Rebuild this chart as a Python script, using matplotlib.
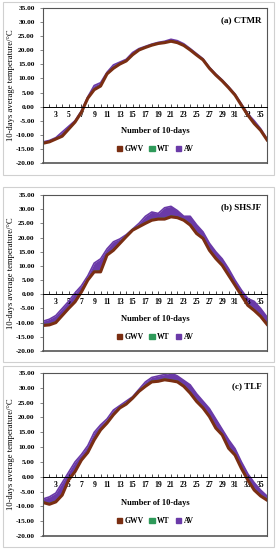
import matplotlib
matplotlib.use("Agg")
import matplotlib.pyplot as plt
from matplotlib.patches import Rectangle, Patch
from matplotlib.ticker import FormatStrFormatter

plt.rcParams['font.family'] = ['Liberation Serif', 'DejaVu Serif']
plt.rcParams['font.weight'] = 'bold'

days = list(range(1, 37))
yticks = [35, 30, 25, 20, 15, 10, 5, 0, -5, -10, -15, -20]
xlabels = [str(d) if d % 2 == 1 and d > 1 else "" for d in days]
series_names = ["GWV", "WT", "AV"]

# (a) CTMR
gwv_a = [-13.0, -12.5, -11.5, -10.5, -8.0, -5.5, -2.0, 3.0, 6.0, 7.3, 11.6, 13.6,
         15.1, 16.2, 18.4, 20.1, 21.0, 21.8, 22.4, 22.7, 23.2, 22.7, 21.7, 20.1,
         18.3, 16.6, 13.6, 11.2, 9.1, 6.7, 4.1, 0.5, -3.0, -6.0, -8.4, -11.8]
wt_a = [-12.8, -12.3, -11.3, -10.2, -7.8, -5.3, -1.8, 3.2, 6.3, 7.6, 11.8, 13.9,
        15.3, 16.4, 18.6, 20.3, 21.2, 22.0, 22.6, 22.9, 23.4, 22.9, 21.9, 20.3,
        18.5, 16.8, 13.8, 11.4, 9.3, 6.9, 4.3, 0.7, -2.8, -5.8, -8.2, -11.6]
av_a = [-12.5, -12.0, -11.0, -9.0, -7.0, -5.0, -1.5, 3.5, 7.5, 8.5, 12.2, 14.8,
        15.8, 16.8, 19.2, 20.6, 21.4, 22.2, 22.8, 23.2, 23.9, 23.4, 22.3, 20.6,
        18.8, 17.0, 14.0, 11.6, 9.5, 7.1, 4.5, 1.0, -2.5, -5.0, -7.8, -11.4]

# (b) SHSJF
gwv_b = [-11.0, -10.8, -10.0, -7.5, -5.0, -2.7, 0.8, 5.0, 7.9, 7.9, 13.8, 15.5,
         17.9, 20.3, 22.6, 23.8, 25.0, 26.1, 26.5, 26.5, 27.3, 27.0, 26.1, 24.4,
         21.4, 19.7, 15.5, 12.6, 10.2, 6.7, 3.2, -0.4, -3.9, -5.7, -7.8, -10.6]
wt_b = [-10.7, -10.5, -9.7, -7.2, -4.7, -2.4, 1.1, 5.3, 8.2, 8.2, 14.1, 15.8,
        18.2, 20.6, 22.9, 24.1, 25.3, 26.4, 26.8, 26.8, 27.6, 27.3, 26.4, 24.7,
        21.7, 20.0, 15.8, 12.9, 10.5, 7.0, 3.5, -0.1, -3.6, -5.4, -7.5, -10.3]
av_b = [-9.5, -8.8, -7.5, -5.0, -2.5, 0.5, 3.0, 6.5, 11.0, 12.5, 16.0, 18.5,
        19.5, 21.0, 23.0, 25.0, 27.5, 29.0, 28.5, 30.5, 31.0, 29.5, 27.5, 27.5,
        24.5, 22.0, 18.0, 15.0, 12.5, 9.0, 5.0, 1.5, -1.5, -2.5, -5.0, -8.0]

# (c) TLF
gwv_c = [-8.7, -9.3, -8.5, -6.2, -1.1, 1.7, 5.6, 8.2, 12.4, 15.8, 18.1, 20.9,
         23.2, 24.5, 26.5, 28.8, 30.5, 32.0, 32.2, 32.7, 32.4, 32.0, 30.5, 28.2,
         25.4, 23.2, 20.3, 16.4, 14.1, 9.6, 7.3, 2.8, -1.1, -4.5, -6.5, -7.9]
wt_c = [-8.4, -9.0, -8.2, -5.9, -0.8, 2.0, 5.9, 8.5, 12.7, 16.1, 18.4, 21.2,
        23.5, 24.8, 26.8, 29.1, 30.8, 32.3, 32.5, 33.0, 32.7, 32.3, 30.8, 28.5,
        25.7, 23.5, 20.6, 16.7, 14.4, 9.9, 7.6, 3.1, -0.8, -4.2, -6.2, -7.6]
av_c = [-7.5, -6.8, -5.5, -2.0, 1.5, 5.0, 7.5, 10.5, 15.0, 17.5, 19.5, 22.5,
        24.0, 25.5, 27.0, 29.5, 32.0, 33.5, 34.0, 34.5, 35.0, 34.0, 32.5, 31.0,
        28.0, 25.5, 23.0, 19.5, 16.0, 12.5, 9.5, 5.0, 1.0, -2.0, -4.5, -6.5]

c_gwv = "#7a2e12"
c_wt = "#2f9a5a"
c_av = "#6a3aa8"

fig = plt.figure(figsize=(2.8, 5.5), dpi=100)

W, H = 280.0, 550.0


def box(px_left, px_top, px_right, px_bottom):
    return [px_left / W, 1 - px_bottom / H, (px_right - px_left) / W, (px_bottom - px_top) / H]


def draw_panel(rect, outer, gwv, wt, av, title):
    # light outer chart border
    o = box(*outer)
    fig.patches.append(Rectangle((o[0], o[1]), o[2], o[3], transform=fig.transFigure,
                                 fill=False, edgecolor="#d0d0d0", linewidth=0.8))
    ax = fig.add_axes(box(*rect))
    ax.fill_between(days, gwv, av, color=c_av, linewidth=0)
    ax.plot(days, av, color=c_av, linewidth=1.2)
    ax.plot(days, wt, color=c_wt, linewidth=0.9)
    ax.plot(days, gwv, color=c_gwv, linewidth=2.2)
    ax.set_xlim(1, 36)
    ax.set_ylim(-20, 35)
    ax.set_yticks(yticks)
    ax.yaxis.set_major_formatter(FormatStrFormatter('%.2f'))
    ax.set_xticks(days)
    ax.set_xticklabels(xlabels)
    ax.tick_params(axis='y', labelsize=5.3, length=2, width=0.5, color="#555555", pad=4)
    ax.tick_params(axis='x', labelsize=5.5, direction='in', length=2, width=0.5, pad=3)
    for s in ['left', 'right', 'top']:
        ax.spines[s].set_color("#555555")
        ax.spines[s].set_linewidth(0.8)
    ax.spines['bottom'].set_position(('data', 0))
    ax.spines['bottom'].set_linewidth(0.7)
    ax.plot([0, 1], [0, 0], transform=ax.transAxes, color="#555555", linewidth=1.2, clip_on=False)
    ax.text(0.5, 0.205, "Number of 10-days", transform=ax.transAxes, ha='center', va='center',
            fontsize=6)
    ax.text(0.975, 0.92, title, transform=ax.transAxes, ha='right', va='center', fontsize=6.5)
    handles = [Patch(color=c_gwv), Patch(color=c_wt), Patch(color=c_av)]
    ax.legend(handles, series_names, loc='center', bbox_to_anchor=(0.5, 0.09), ncol=3,
              frameon=False, fontsize=5.5, handlelength=0.7, handleheight=0.7,
              handletextpad=0.3, columnspacing=0.8)
    ax.set_ylabel("10-days average temperature/\u00b0C", fontsize=6.2)
    ax.yaxis.set_label_coords(-0.125, 0.5)
    return ax


draw_panel((43, 8, 267, 163), (3, 2, 274, 175), gwv_a, wt_a, av_a, "(a) CTMR")
draw_panel((43, 195, 267, 351), (3, 187, 274, 362), gwv_b, wt_b, av_b, "(b) SHSJF")
draw_panel((43, 373, 267, 536), (3, 366, 274, 547), gwv_c, wt_c, av_c, "(c) TLF")

fig.savefig("out.png", dpi=100)
